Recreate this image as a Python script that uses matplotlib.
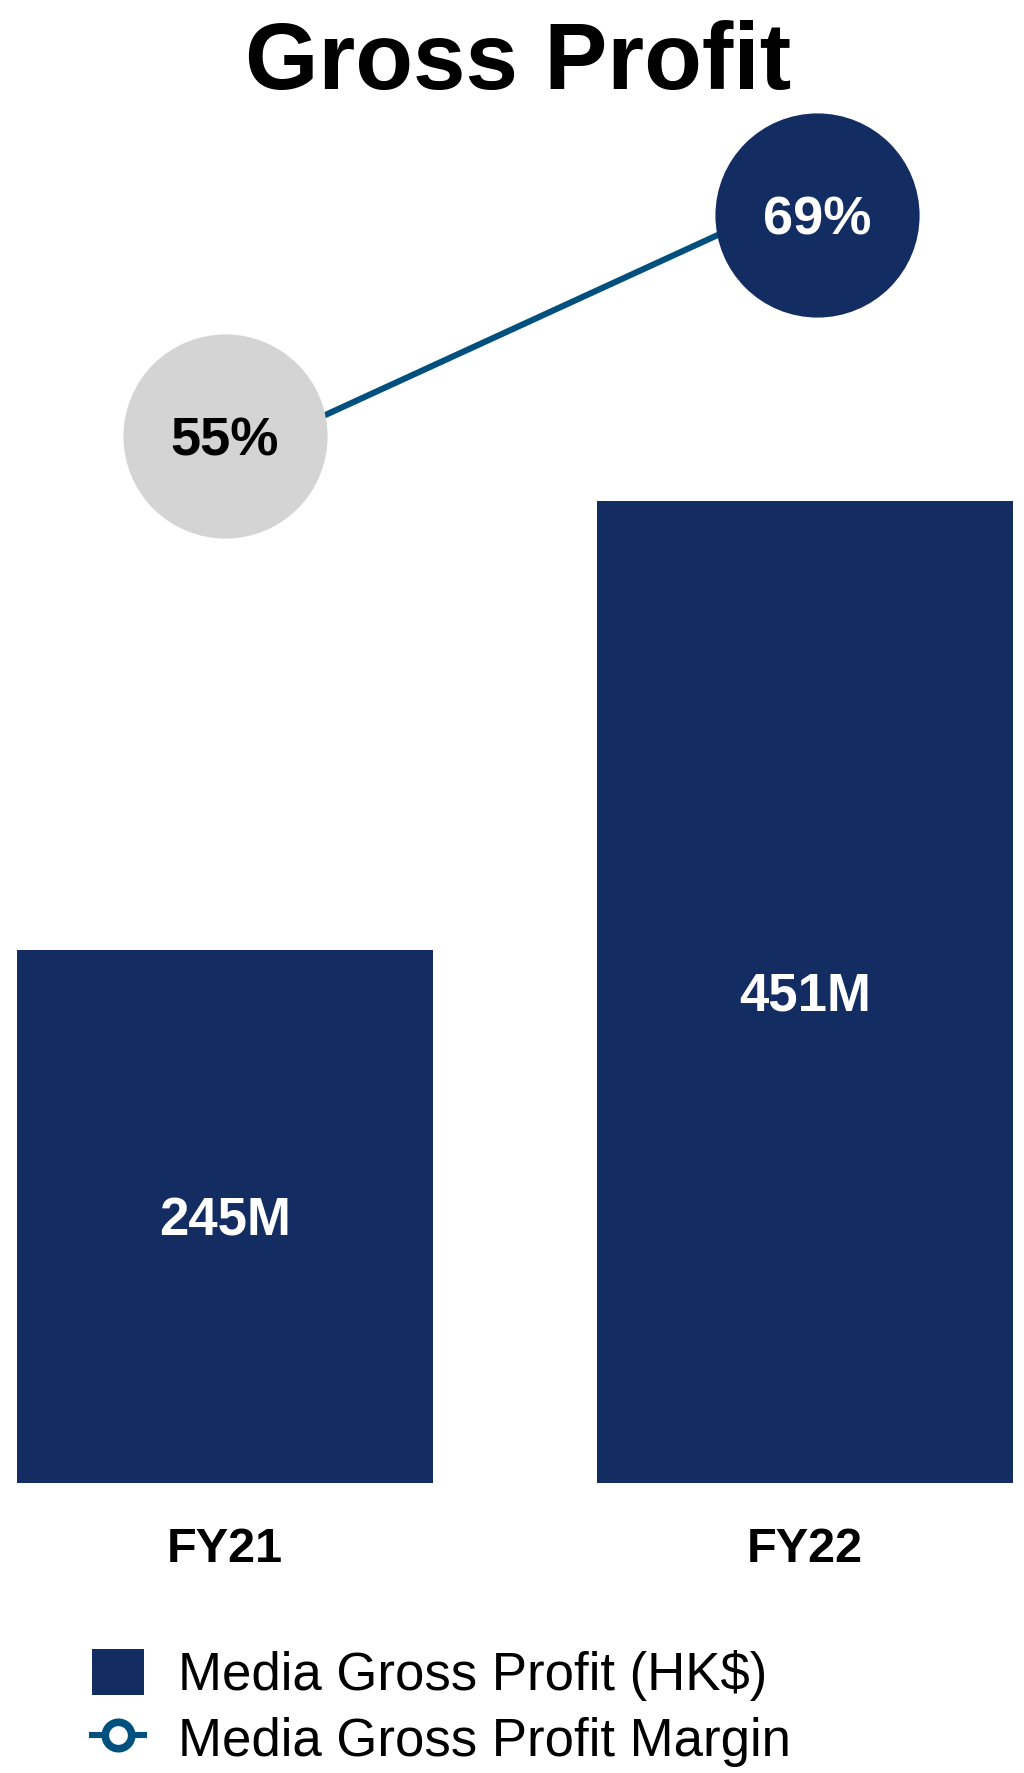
import matplotlib
matplotlib.use("Agg")
import matplotlib.pyplot as plt
from matplotlib.patches import Patch
from matplotlib.lines import Line2D
from matplotlib.transforms import ScaledTranslation

plt.rcParams["font.family"] = ["Liberation Sans", "DejaVu Sans"]

# Data
years = ["FY21", "FY22"]
gross_profit = [245, 451]          # HK$ millions
margin = [55, 69]                  # percent
gross_profit_labels = ["245M", "451M"]
margin_labels = ["55%", "69%"]

# Styling
NAVY = "#132D63"
LINE_BLUE = "#00507F"
GREY = "#D4D4D4"
bubble_colors = [GREY, NAVY]
bubble_text_colors = ["black", "white"]
bubble_nudge_pt = [(0, 18), (8.6, -14.4)]   # bubble label offsets from the line points

W, H = 1024, 1773
fig = plt.figure(figsize=(W / 100, H / 100), dpi=100)

# Plot area: baseline at y=1483 px, top at y=100 px
ax = fig.add_axes([0, (H - 1483) / H, 1, (1483 - 100) / H])
ax.set_xlim(-0.388, 1.3776)
ax.set_ylim(0, 635.2)

xs = list(range(len(years)))
bars = ax.bar(xs, gross_profit, width=0.717, color=NAVY, zorder=2)

for b, lab in zip(bars, gross_profit_labels):
    ax.annotate(lab, xy=(b.get_x() + b.get_width() / 2, b.get_height() / 2),
                xytext=(0, -13.5), textcoords="offset points",
                ha="center", va="baseline", color="white", fontsize=38,
                fontweight="bold", zorder=3)

ax.set_xticks(xs)
ax.set_xticklabels(years, fontsize=35, fontweight="bold")
ax.tick_params(axis="x", length=0, pad=31.5)
ax.set_yticks([])
for s in ax.spines.values():
    s.set_visible(False)

# Margin line on a secondary scale
ax2 = ax.twinx()
ax2.set_ylim(1.21, 74.0)
ax2.set_yticks([])
for s in ax2.spines.values():
    s.set_visible(False)
ax2.plot(xs, margin, color=LINE_BLUE, lw=4.4, zorder=1, solid_capstyle="butt")

for x, m, lab, col, tcol, (dx, dy) in zip(xs, margin, margin_labels, bubble_colors,
                                          bubble_text_colors, bubble_nudge_pt):
    shift = ScaledTranslation(dx / 72, dy / 72, fig.dpi_scale_trans)
    ax2.scatter([x], [m], s=147 ** 2, c=[col], linewidths=0, zorder=2,
                transform=ax2.transData + shift)
    ax2.annotate(lab, xy=(x, m), xytext=(dx, dy - 14), textcoords="offset points",
                 ha="center", va="baseline", fontsize=39, fontweight="bold",
                 color=tcol, zorder=3)

fig.text(0.506, 1 - 65 / H, "Gross Profit", ha="center", va="center",
         fontsize=68, fontweight="bold")

handles = [
    Patch(facecolor=NAVY, edgecolor="none"),
    Line2D([], [], color=LINE_BLUE, lw=4.4, marker="o", markersize=19,
           markerfacecolor="white", markeredgecolor=LINE_BLUE, markeredgewidth=5.5),
]
fig.legend(handles, ["Media Gross Profit (HK$)", "Media Gross Profit Margin"],
           loc="upper left", bbox_to_anchor=(92 / W, 1 - 1649 / H),
           frameon=False, fontsize=38, borderpad=0, borderaxespad=0,
           handlelength=0.98, handleheight=0.97, handletextpad=0.65,
           labelspacing=0.25)

fig.savefig("out.png", dpi=100)
